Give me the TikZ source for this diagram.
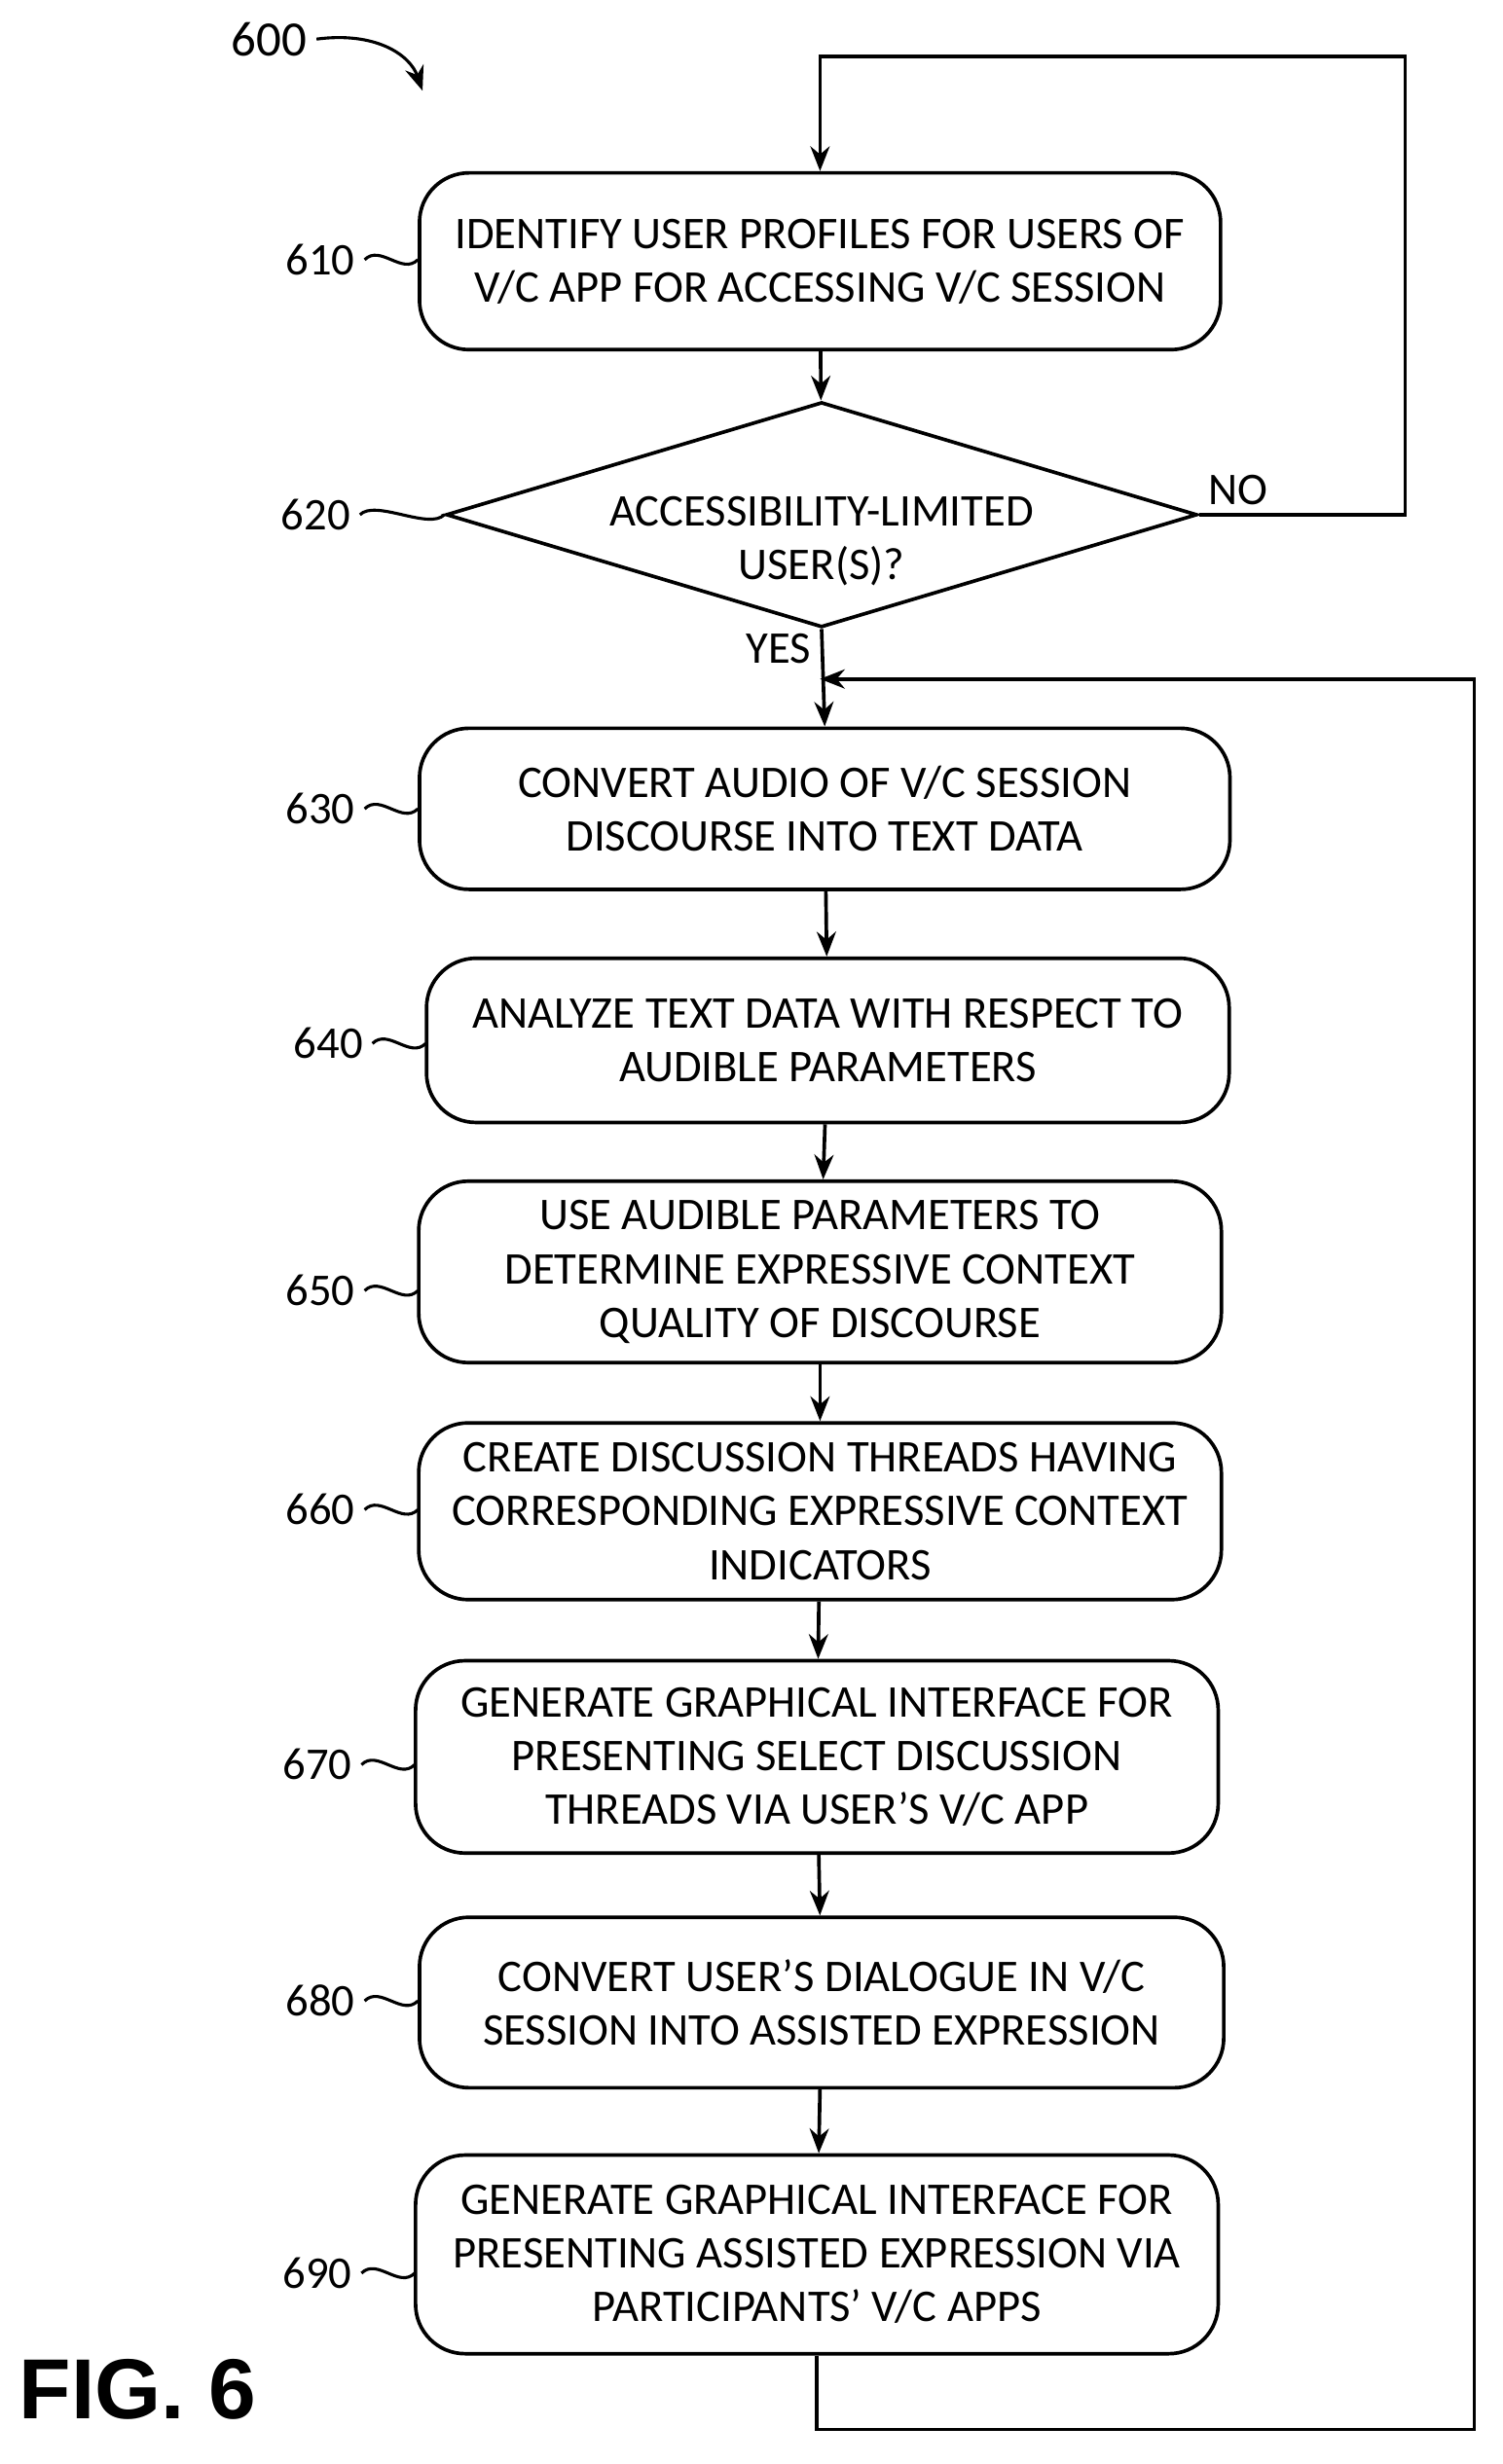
\documentclass[tikz,border=0pt]{standalone}
\usepackage{fontspec}
\setmainfont{Carlito}
\newfontfamily\figfont{Liberation Sans}
\usetikzlibrary{shapes.geometric,arrows.meta}

\tikzset{
  stepbox/.style={draw,line width=1.3pt,rounded corners=18pt,align=center,
    font=\fontsize{16.5}{19.5}\selectfont},
  flow/.style={line width=1.3pt,-{Stealth[length=9pt,width=7pt]}},
  num/.style={font=\fontsize{16.5}{19.5}\selectfont,anchor=east}
}

% label with a small wave towards a box
\newcommand{\steplabel}[5]{%
  \node[num] (#1) at (#3,#4) {#2};
  \draw[line width=1.1pt] (#1.east) .. controls ++(10,-10) and ++(-10,10) .. ++(#5,0);
}

\begin{document}
\begin{tikzpicture}[x=0.02cm,y=-0.02cm]
  \useasboundingbox (0,0) rectangle (960,1575);

  % boites
  \node[stepbox,minimum width=10.24cm,minimum height=2.26cm] (s610) at (524,167)
    {IDENTIFY USER PROFILES FOR USERS OF\\V/C APP FOR ACCESSING V/C SESSION};
  \node[draw,line width=1.3pt,diamond,aspect=3.33,minimum width=9.6cm,minimum height=2.88cm,
    inner sep=0pt,
    label={[align=center,yshift=-0.34cm,font=\fontsize{16.5}{19.5}\selectfont]center:ACCESSIBILITY-LIMITED\\USER(S)?}]
    (s620) at (525,329) {};
  \node[stepbox,minimum width=10.36cm,minimum height=2.06cm] (s630) at (527,517)
    {CONVERT AUDIO OF V/C SESSION\\DISCOURSE INTO TEXT DATA};
  \node[stepbox,minimum width=10.26cm,minimum height=2.1cm] (s640) at (529,665)
    {ANALYZE TEXT DATA WITH RESPECT TO\\AUDIBLE PARAMETERS};
  \node[stepbox,minimum width=10.26cm,minimum height=2.32cm] (s650) at (524,813)
    {USE AUDIBLE PARAMETERS TO\\DETERMINE EXPRESSIVE CONTEXT\\QUALITY OF DISCOURSE};
  \node[stepbox,minimum width=10.26cm,minimum height=2.26cm] (s660) at (524,966)
    {CREATE DISCUSSION THREADS HAVING\\CORRESPONDING EXPRESSIVE CONTEXT\\INDICATORS};
  \node[stepbox,minimum width=10.26cm,minimum height=2.46cm] (s670) at (522,1123)
    {GENERATE GRAPHICAL INTERFACE FOR\\PRESENTING SELECT DISCUSSION\\THREADS VIA USER'S V/C APP};
  \node[stepbox,minimum width=10.28cm,minimum height=2.18cm] (s680) at (525,1280)
    {CONVERT USER'S DIALOGUE IN V/C\\SESSION INTO ASSISTED EXPRESSION};
  \node[stepbox,minimum width=10.26cm,minimum height=2.54cm] (s690) at (522,1441)
    {GENERATE GRAPHICAL INTERFACE FOR\\PRESENTING ASSISTED EXPRESSION VIA\\PARTICIPANTS' V/C APPS};

  % liaisons
  \draw[flow] (s610) -- (s620);
  \draw[flow] (s620.south) -- (s630.north) node[pos=0.2,left,font=\fontsize{16.5}{19.5}\selectfont] {YES};
  \draw[flow] (s630) -- (s640);
  \draw[flow] (s640) -- (s650);
  \draw[flow] (s650) -- (s660);
  \draw[flow] (s660) -- (s670);
  \draw[flow] (s670) -- (s680);
  \draw[flow] (s680) -- (s690);

  % boucles
  \coordinate (top) at (524,36);
  \draw[flow] (s620.east) -- (898,329) |- (top) -- (s610.north);
  \node[font=\fontsize{16.5}{19.5}\selectfont,anchor=south west] (no) at (s620.east) {NO};
  \coordinate (back) at (524,434);
  \draw[flow] (s690.south) -- (522,1553) -| (942,434) -- (back);

  % numeros
  \steplabel{n610}{610}{233}{166}{34}
  \steplabel{n620}{620}{230}{329}{54}
  \steplabel{n630}{630}{233}{517}{34}
  \steplabel{n640}{640}{238}{667}{34}
  \steplabel{n650}{650}{233}{825}{34}
  \steplabel{n660}{660}{233}{965}{34}
  \steplabel{n670}{670}{231}{1128}{34}
  \steplabel{n680}{680}{233}{1279}{34}
  \steplabel{n690}{690}{231}{1453}{34}

  \node[font=\fontsize{18}{20}\selectfont] (n600) at (172,25) {600};
  \draw[line width=1.1pt,-{Stealth[length=9pt,width=7pt]}] (n600.east) .. controls (240,20) and (262,35) .. (270,58);

  \node[font=\fontsize{31}{34}\selectfont\bfseries\figfont] (fig) at (88,1527) {FIG. 6};
\end{tikzpicture}
\end{document}
